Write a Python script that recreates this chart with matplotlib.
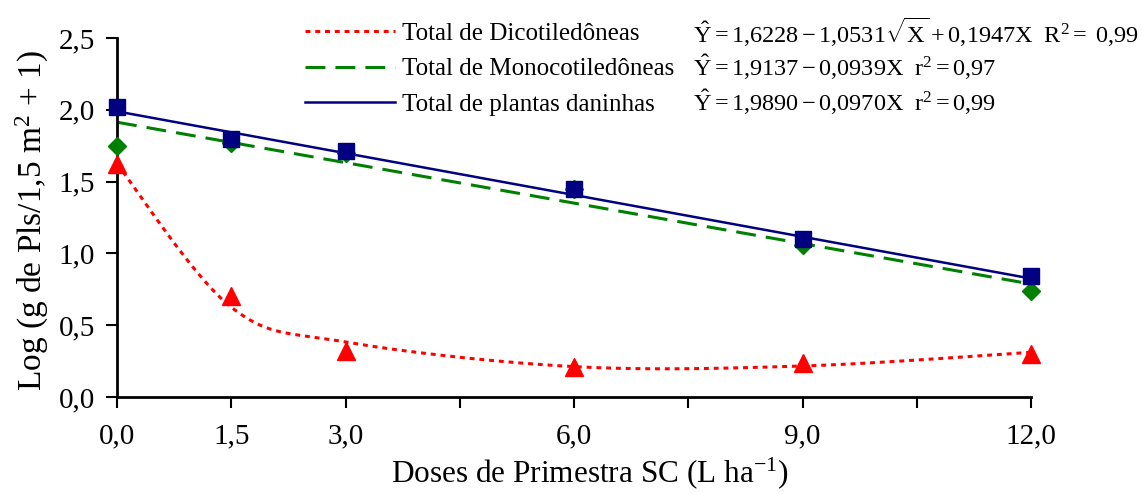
import numpy as np
import matplotlib
matplotlib.use("Agg")
import matplotlib.pyplot as plt

plt.rcParams['font.family'] = ['Liberation Serif', 'DejaVu Serif']
plt.rcParams['mathtext.fontset'] = 'custom'
plt.rcParams['mathtext.rm'] = 'Liberation Serif'
plt.rcParams['mathtext.it'] = 'Liberation Serif:italic'
plt.rcParams['mathtext.bf'] = 'Liberation Serif:bold'

# Data
doses = [0.0, 1.5, 3.0, 6.0, 9.0, 12.0]
dicot = [1.62, 0.70, 0.32, 0.21, 0.24, 0.30]
monocot = [1.75, 1.77, 1.70, 1.45, 1.06, 0.74]
total = [2.02, 1.80, 1.71, 1.45, 1.10, 0.84]

# Regression coefficients
dicot_coef = [1.6228, -1.0531, 0.1947]   # a + b*sqrt(X) + c*X
monocot_coef = [1.9137, -0.0939]         # a + b*X
total_coef = [1.9890, -0.0970]           # a + b*X

xticks = [0.0, 1.5, 3.0, 4.5, 6.0, 7.5, 9.0, 10.5, 12.0]
xticklabels = ['0,0', '1,5', '3,0', '', '6,0', '', '9,0', '', '12,0']
yticks = [0.0, 0.5, 1.0, 1.5, 2.0, 2.5]
yticklabels = ['0,0', '0,5', '1,0', '1,5', '2,0', '2,5']

legend_labels = ['Total de Dicotiledôneas', 'Total de Monocotiledôneas',
                 'Total de plantas daninhas']
equations = [
    r'$\hat{\mathrm{Y}} = 1{,}6228 - 1{,}0531\sqrt{\mathrm{X}} + 0{,}1947\mathrm{X}\ \ \mathrm{R}^2 =\ 0{,}99$',
    r'$\hat{\mathrm{Y}} = 1{,}9137 - 0{,}0939\mathrm{X}\ \ \mathrm{r}^2 = 0{,}97$',
    r'$\hat{\mathrm{Y}} = 1{,}9890 - 0{,}0970\mathrm{X}\ \ \mathrm{r}^2 = 0{,}99$',
]

red = '#FF0000'
green = '#008000'
navy = '#000080'


def smooth_curve(x, y, n=40):
    """Catmull-Rom style smoothing through the given points (like a smoothed line chart)."""
    x = np.asarray(x, float)
    y = np.asarray(y, float)
    px = np.concatenate([[x[0]], x, [x[-1]]])
    py = np.concatenate([[y[0]], y, [y[-1]]])
    outx, outy = [], []
    t = np.linspace(0, 1, n)
    for i in range(1, len(px) - 2):
        p0x, p1x, p2x, p3x = px[i - 1], px[i], px[i + 1], px[i + 2]
        p0y, p1y, p2y, p3y = py[i - 1], py[i], py[i + 1], py[i + 2]
        c1x = p1x + (p2x - p0x) / 6
        c1y = p1y + (p2y - p0y) / 6
        c2x = p2x - (p3x - p1x) / 6
        c2y = p2y - (p3y - p1y) / 6
        bx = ((1 - t) ** 3) * p1x + 3 * ((1 - t) ** 2) * t * c1x + 3 * (1 - t) * t ** 2 * c2x + t ** 3 * p2x
        by = ((1 - t) ** 3) * p1y + 3 * ((1 - t) ** 2) * t * c1y + 3 * (1 - t) * t ** 2 * c2y + t ** 3 * p2y
        outx.append(bx)
        outy.append(by)
    return np.concatenate(outx), np.concatenate(outy)


fig = plt.figure(figsize=(11.42, 4.94), dpi=100)
ax = fig.add_axes([0.1025, 0.1964, 0.8003, 0.7266])

d = np.asarray(doses)
fit_d = dicot_coef[0] + dicot_coef[1] * np.sqrt(d) + dicot_coef[2] * d
xs_d, ys_d = smooth_curve(d, fit_d)
xs = np.linspace(0, 12, 50)
ym = monocot_coef[0] + monocot_coef[1] * xs
yt = total_coef[0] + total_coef[1] * xs

l1, = ax.plot(xs_d, ys_d, color=red, lw=2.2, linestyle=(0, (1.6, 1.6)), clip_on=False)
l2, = ax.plot(xs, ym, color=green, lw=2.2, linestyle=(0, (6.5, 3.3)), clip_on=False)
l3, = ax.plot(xs, yt, color=navy, lw=1.8, linestyle='-', clip_on=False)

ax.plot(doses, monocot, linestyle='none', marker='D', ms=9, color=green, clip_on=False, zorder=5)
ax.plot(doses, dicot, linestyle='none', marker='^', ms=13, color=red, clip_on=False, zorder=5)
ax.plot(doses, total, linestyle='none', marker='s', ms=11, color=navy, clip_on=False, zorder=6)

ax.set_xlim(0, 12)
ax.set_ylim(0, 2.5)
ax.set_xticks(xticks)
ax.set_xticklabels(xticklabels, fontsize=21)
ax.set_yticks(yticks)
ax.set_yticklabels(yticklabels, fontsize=21)
ax.tick_params(axis='both', direction='out', length=8, width=1.5, colors='black')
ax.tick_params(axis='x', pad=11)
ax.tick_params(axis='y', pad=8)
for s in ['top', 'right']:
    ax.spines[s].set_visible(False)
for s in ['left', 'bottom']:
    ax.spines[s].set_linewidth(2)

ax.set_xlabel(r'Doses de Primestra SC (L ha$^{\mathrm{-1}}$)', fontsize=22.5, labelpad=4)
ax.xaxis.label.set_x(0.517)
ax.set_ylabel(r'Log (g de Pls/1,5 m$^{\mathrm{2}}$ + 1)', fontsize=24, labelpad=5)
ax.yaxis.label.set_y(0.49)

leg = fig.legend([l1, l2, l3], legend_labels, loc='upper left',
                 bbox_to_anchor=(0.258, 0.975), frameon=False, fontsize=18,
                 handlelength=3.6, handletextpad=0.3, labelspacing=0.52,
                 borderaxespad=0.0)

ys = [0.935, 0.864, 0.794]
for y, eq in zip(ys, equations):
    fig.text(0.607, y, eq, fontsize=17.5, va='center', ha='left')

fig.savefig('out.png', dpi=100)
